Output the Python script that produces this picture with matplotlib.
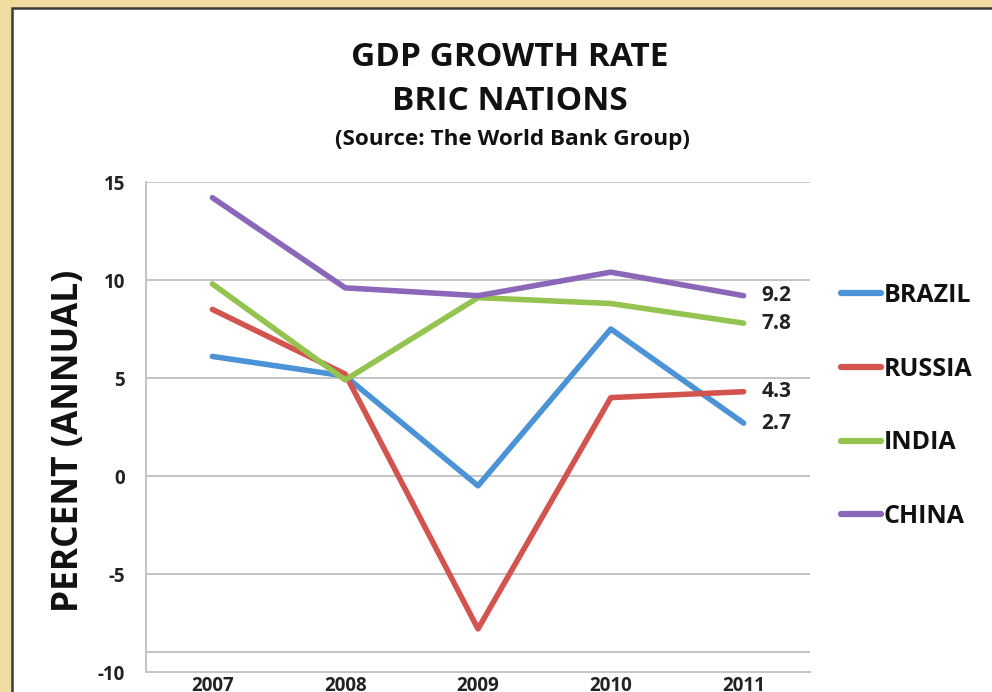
import matplotlib
matplotlib.use('Agg')
import matplotlib.pyplot as plt
from matplotlib.patches import Rectangle

years = ['2007', '2008', '2009', '2010', '2011']
brazil = [6.1, 5.1, -0.5, 7.5, 2.7]
russia = [8.5, 5.2, -7.8, 4.0, 4.3]
india = [9.8, 4.9, 9.1, 8.8, 7.8]
china = [14.2, 9.6, 9.2, 10.4, 9.2]
yticks = [-10, -5, 0, 5, 10, 15]

colors = {
        'BRAZIL': '#4b93d6',
        'RUSSIA': '#d3534e',
        'INDIA': '#94c350',
        'CHINA': '#8a67b8'
}

plt.rcParams['font.family'] = ['Open Sans', 'DejaVu Sans']
plt.rcParams['font.weight'] = 'bold'

fig = plt.figure(figsize=(9.92, 6.92), dpi=100, facecolor='#f1dc9f')

# white slide panel inside the gold frame
panel = Rectangle((12/992, -0.1), 1.2, 1 - 8/692 + 0.1, transform=fig.transFigure,
                  facecolor='white', edgecolor='#3a3a3a', linewidth=1.8, zorder=-10)
fig.patches.append(panel)

ax = fig.add_axes([146/992, 20/692, 664/992, 490/692])
ax.set_facecolor('none')

x = range(len(years))
series = [('BRAZIL', brazil), ('RUSSIA', russia), ('INDIA', india), ('CHINA', china)]
for name, vals in series:
        ax.plot(x, vals, color=colors[name], linewidth=4, label=name,
                solid_capstyle='round', solid_joinstyle='round', zorder=3)
        ax.annotate(f'{vals[-1]:.1f}', (x[-1], vals[-1]), xytext=(13, 0),
                    textcoords='offset points', va='center', ha='left',
                    fontsize=15, fontweight='bold', color='#222222')

ax.set_xlim(-0.5, len(years) - 0.5)
ax.set_ylim(-10, 15)
ax.set_xticks(list(x))
ax.set_xticklabels(years)
ax.set_yticks(yticks)
ax.set_yticklabels([str(v) for v in yticks])
ax.tick_params(axis='both', length=0, labelsize=13.5, colors='#222222')
ax.tick_params(axis='y', pad=15)
ax.tick_params(axis='x', pad=3)

ax.grid(axis='y', color='#c4c4c4', linewidth=1.4)
ax.axhline(-9, color='#c4c4c4', linewidth=1.4)
ax.set_axisbelow(True)
for side in ['top', 'right']:
        ax.spines[side].set_visible(False)
for side in ['left', 'bottom']:
        ax.spines[side].set_color('#c4c4c4')
        ax.spines[side].set_linewidth(1.4)

fig.text(69/992, 1 - 441/692, 'PERCENT (ANNUAL)', rotation=90, ha='center', va='center',
         fontsize=25.5, fontweight='bold', color='#111111')

fig.text(510/992, 1 - 57/692, 'GDP GROWTH RATE', ha='center', va='center',
         fontsize=24, fontweight='bold', color='#111111')
fig.text(510/992, 1 - 101/692, 'BRIC NATIONS', ha='center', va='center',
         fontsize=24, fontweight='bold', color='#111111')
fig.text(512/992, 1 - 140/692, '(Source: The World Bank Group)', ha='center', va='center',
         fontsize=16.2, fontweight='bold', color='#111111')

leg = fig.legend(loc='center left', bbox_to_anchor=(841/992, 1 - 406/692),
                 frameon=False, fontsize=18, handlelength=1.6, handletextpad=0.1,
                 labelspacing=1.95, borderpad=0, borderaxespad=0)
for t in leg.get_texts():
        t.set_fontweight('bold')
        t.set_color('#111111')
for h in leg.legend_handles:
        h.set_linewidth(4.5)

fig.savefig('out.png', dpi=100, facecolor=fig.get_facecolor())
